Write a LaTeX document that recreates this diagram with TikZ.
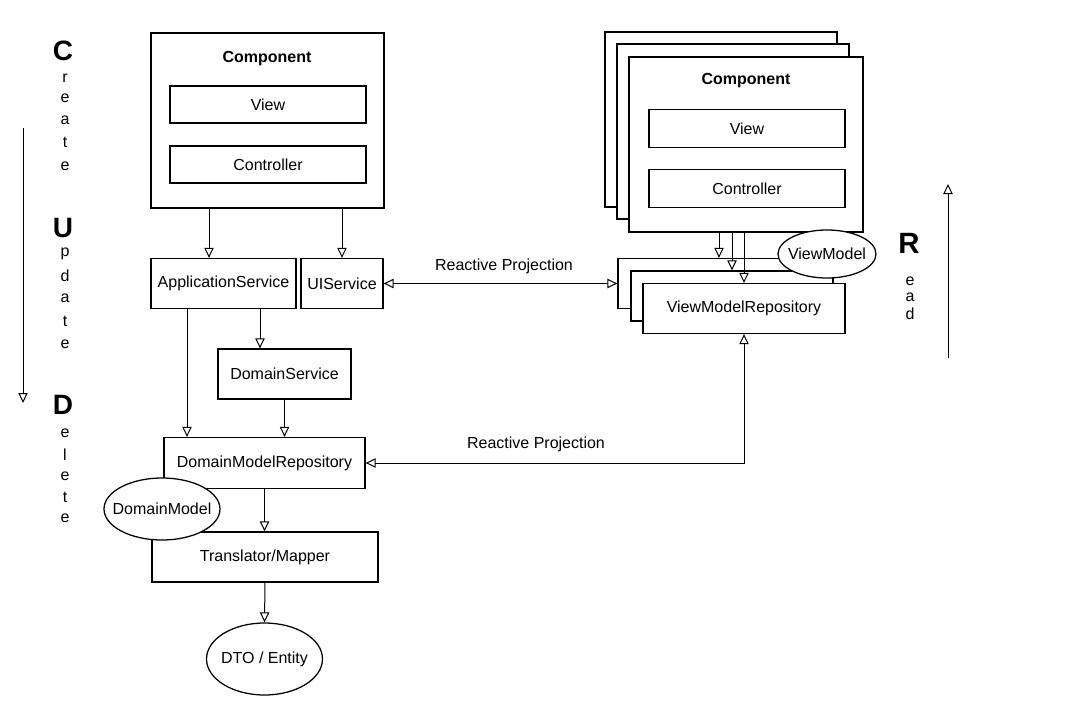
\documentclass[tikz,border=0pt]{standalone}
\usepackage{fontspec}
\setmainfont{Liberation Sans}
\usetikzlibrary{arrows.meta,shapes.geometric,calc}

\begin{document}
\begin{tikzpicture}[x=0.75pt,y=-0.75pt,
  every node/.style={font=\fontsize{12}{14}\selectfont, inner sep=0pt},
  box/.style={draw, line width=0.95pt, fill=white},
  sz/.style 2 args={minimum width={#1*0.75pt}, minimum height={#2*0.75pt}},
  oval/.style={ellipse, draw, line width=0.95pt, fill=white},
  tip/.tip={Triangle[open,length=7.5pt,width=7pt]},
  arr/.style={line width=0.75pt, -tip},
  biarr/.style={line width=0.75pt, tip-tip},
  bigletter/.style={font=\fontsize{21}{21}\selectfont\bfseries},
  letter/.style={font=\fontsize{12}{12}\selectfont},
  title/.style={font=\fontsize{12}{14}\selectfont\bfseries}]

\useasboundingbox (0,0) rectangle (1076,725);
\fill[white] (0,0) rectangle (1076,725);

% ---- left component ----
\node[box, sz={233}{175}] (compL) at (267.5,120.5) {};
\node[title] (compLt) at (267,59) {Component};
\node[box, sz={196}{37}] (viewL) at (268,104.5) {View};
\node[box, sz={196}{37}] (ctrlL) at (268,164.5) {Controller};

% ---- write side services ----
\node[box, sz={145}{50}] (appsvc) at (223.5,283.5) {ApplicationService};
\node[box, sz={82}{50}] (uisvc) at (342,283.5) {UIService};
\node[box, sz={133}{50}] (domsvc) at (284.5,374) {DomainService};
\node[box, sz={201}{51}] (dmr) at (264.5,463) {DomainModelRepository};
\node[box, sz={226}{50}] (trans) at (265,557) {Translator/Mapper};
\node[oval, sz={116}{62}, label={center:DomainModel}] (dm) at (162,509) {};
\node[oval, sz={116}{72}, label={center:DTO / Entity}] (dto) at (264.5,659) {};

% ---- right component stack ----
\node[box, sz={232}{175}] (compB1) at (721,119.5) {};
\node[box, sz={232}{175}] (compB2) at (733,131.5) {};
\node[box, sz={234}{175}] (compF) at (746,144.5) {};
\node[title] (compFt) at (746,81) {Component};
\node[box, sz={196}{38}] (viewR) at (747,128.5) {View};
\node[box, sz={196}{38}] (ctrlR) at (747,188.5) {Controller};

% ---- view model repository stack ----
\node[box, sz={202}{50}] (vmrB1) at (719,283.5) {};
\node[box, sz={202}{50}] (vmrB2) at (732,296) {};
\node[box, sz={202}{50}] (vmrF) at (744,308.5) {ViewModelRepository};
\node[oval, sz={98}{48}, label={center:ViewModel}] (vm) at (827,254) {};

% ---- connectors ----
\draw[arr] (209,0 |- compL.south) -- (209,0 |- appsvc.north);
\draw[arr] (uisvc.north |- compL.south) -- (uisvc.north);
\draw[arr] (260,0 |- appsvc.south) -- (260,0 |- domsvc.north);
\draw[arr] (187,0 |- appsvc.south) -- (187,0 |- dmr.north);
\draw[arr] (domsvc.south) -- (domsvc.south |- dmr.north);
\draw[arr] (dmr.south) -- (dmr.south |- trans.north);
\draw[arr] (trans.south) -- (dto.north);

\draw[arr] (vmrB1.north |- compF.south) -- (vmrB1.north);
\draw[arr] (vmrB2.north |- compF.south) -- (vmrB2.north);
\draw[arr] (vmrF.north |- compF.south) -- (vmrF.north);

\draw[biarr] (uisvc.east) -- (vmrB1.west);
\node (rp1) at (504,266) {Reactive Projection};
\draw[biarr] (vmrF.south) -- (vmrF.south |- dmr.east) -- (dmr.east);
\node (rp2) at (536,444) {Reactive Projection};

% ---- CRUD legend ----
\node[bigletter] (lC) at (63,51) {C};
\foreach \ch/\yy [count=\i] in {r/78,e/98,a/120,t/142,e/166}
  \node[letter, name=c\i] at (65,\yy) {\ch};
\node[bigletter] (lU) at (63,228) {U};
\foreach \ch/\yy [count=\i] in {p/254,d/276,a/298,t/321,e/344}
  \node[letter, name=u\i] at (65,\yy) {\ch};
\node[bigletter] (lD) at (63,405) {D};
\foreach \ch/\yy [count=\i] in {e/433,l/455,e/476,t/497,e/518}
  \node[letter, name=d\i] at (65,\yy) {\ch};
\coordinate (cudTop) at (23,128);
\coordinate (cudBot) at (23,403);
\draw[arr] (cudTop) -- (cudBot);

\node[bigletter, font=\fontsize{22}{22}\selectfont\bfseries] (lR) at (909,243) {R};
\foreach \ch/\yy [count=\i] in {e/281,a/297,d/314}
  \node[letter, name=r\i] at (910,\yy) {\ch};
\coordinate (readBot) at (948,358);
\coordinate (readTop) at (948,184);
\draw[arr] (readBot) -- (readTop);
\end{tikzpicture}
\end{document}
